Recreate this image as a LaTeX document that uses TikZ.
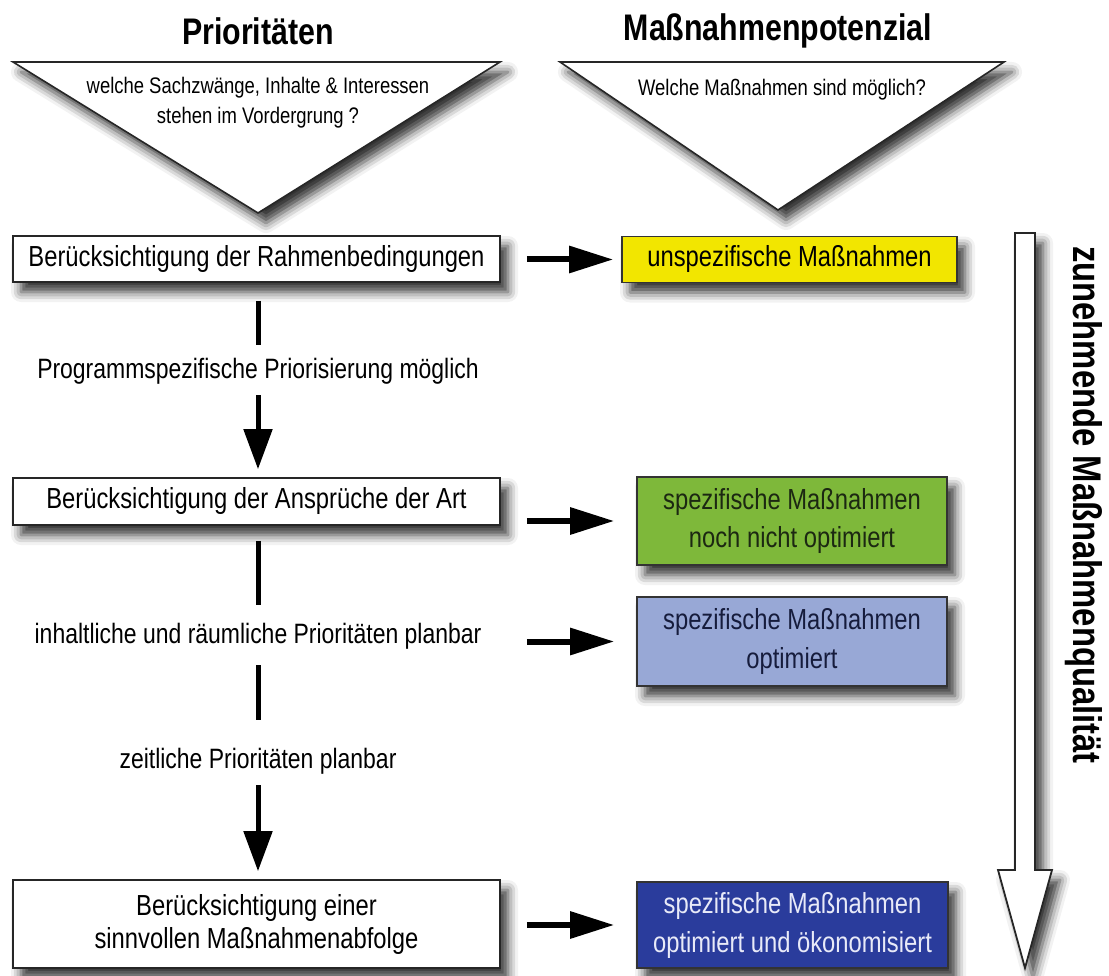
\documentclass[tikz,border=0pt]{standalone}
\usepackage{fontspec}
\setmainfont[FakeStretch=0.82]{Liberation Sans}
\usetikzlibrary{arrows.meta,shadows.blur}
\definecolor{ybox}{RGB}{242,230,0}
\definecolor{gbox}{RGB}{126,184,58}
\definecolor{lbbox}{RGB}{152,168,214}
\definecolor{dbbox}{RGB}{42,60,156}
\definecolor{gtext}{RGB}{28,40,18}
\definecolor{lbtext}{RGB}{22,28,60}
\definecolor{dbtext}{RGB}{232,234,248}
\newcommand{\boxfont}{\fontsize{29}{33}\selectfont}
\newcommand{\mfont}{\fontsize{29}{39}\selectfont}
\newcommand{\lblfont}{\fontsize{28}{30}\selectfont}
\newcommand{\trifont}{\fontsize{22.5}{30}\selectfont}
\newcommand{\titlefont}{\fontsize{37}{40}\selectfont\bfseries}
\newcommand{\sidefont}{\fontsize{40}{44}\selectfont\bfseries}
\tikzset{
  shad/.style={blur shadow={shadow xshift=8pt, shadow yshift=-10pt, shadow blur radius=10pt, shadow opacity=80}},
  box/.style={shad, draw=black!85, line width=1.6pt, fill=white, minimum width=487pt, inner sep=0pt, align=center, font=\boxfont},
  mbox/.style={shad, draw=black!80, line width=1.6pt, minimum width=310pt, minimum height=88pt, inner sep=0pt, align=center, font=\mfont},
  lbl/.style={inner sep=0pt, text height=18pt, text depth=5pt, font=\lblfont},
  vline/.style={line width=5pt, draw=black},
  varrow/.style={vline, -{Triangle[length=40pt,width=28pt]}},
  harrow/.style={line width=6pt, draw=black, -{Triangle[length=44pt,width=26pt]}, shorten <=26pt, shorten >=22pt},
  tri/.style={shad, draw=black!85, line width=1.6pt, fill=white, line join=miter}
}
\begin{document}
\begin{tikzpicture}[x=1pt,y=-1pt]
\useasboundingbox (0,0) rectangle (1109,976);

% titles
\node[font=\titlefont] (t1) at (258,31) {Prioritäten};
\node[font=\titlefont] (t2) at (778,31) {Maßnahmenpotenzial};

% triangles
\path[tri] (13,62) -- (500,62) -- (258,213) -- cycle;
\path[tri] (560,62) -- (1004,62) -- (778,210) -- cycle;
\node[font=\trifont, align=center] (q1) at (258,103) {welche Sachzwänge, Inhalte \& Interessen\\stehen im Vordergrung ?};
\node[font=\trifont] (q2) at (782,90) {Welche Maßnahmen sind möglich?};

% left boxes
\node[box, minimum height=46pt] (b1) at (256.5,259) {Berücksichtigung der Rahmenbedingungen};
\node[box, minimum height=47pt] (b2) at (256.5,501.5) {Berücksichtigung der Ansprüche der Art};
\node[box, minimum height=88pt] (b4) at (256.5,924) {Berücksichtigung einer\\sinnvollen Maßnahmenabfolge};

% labels
\node[lbl] (l1) at (258,372) {Programmspezifische Priorisierung möglich};
\node[lbl] (l2) at (258,637) {inhaltliche und räumliche Prioritäten planbar};
\node[lbl] (l3) at (258,762) {zeitliche Prioritäten planbar};

% right boxes
\node[mbox, fill=ybox, minimum width=335pt, minimum height=46pt, font=\boxfont] (y) at (789.5,259.5) {unspezifische Maßnahmen};
\node[mbox, fill=gbox, text=gtext] (g) at (792,521) {spezifische Maßnahmen\\noch nicht optimiert};
\node[mbox, fill=lbbox, text=lbtext, minimum height=89pt] (lb) at (792,641.5) {spezifische Maßnahmen\\optimiert};
\node[mbox, fill=dbbox, text=dbtext, minimum height=86pt, minimum width=311pt] (db) at (792.5,925) {spezifische Maßnahmen\\optimiert und ökonomisiert};

% vertical connectors
\draw[vline, shorten <=18pt, shorten >=15pt] (b1.south -| l1.north) -- (l1.north);
\draw[varrow, shorten <=11.5pt, shorten >=8pt] (l1.south) -- (b2.north -| l1.south);
\draw[vline, shorten <=15pt, shorten >=20.5pt] (b2.south -| l2.north) -- (l2.north);
\draw[vline, shorten <=16.5pt, shorten >=30.5pt] (l2.south) -- (l3.north);
\draw[varrow, shorten <=11.5pt, shorten >=8pt] (l3.south) -- (b4.north -| l3.south);

% horizontal arrows
\draw[harrow, shorten >=8pt] (b1.east |- y.west) -- (y.west);
\draw[harrow] (b2.east |- g.west) -- (g.west);
\draw[harrow] (b2.east |- lb.west) -- (lb.west);
\draw[harrow] (b4.east |- db.west) -- (db.west);

% big quality arrow
\path[tri, line width=1.8pt] (1015,233) -- (1035,233) -- (1035,870) -- (1052,870) -- (1025,968) -- (998,870) -- (1015,870) -- cycle;
\node[font=\sidefont, rotate=-90] (qa) at (1084,505) {zunehmende Maßnahmenqualität};
\end{tikzpicture}
\end{document}
